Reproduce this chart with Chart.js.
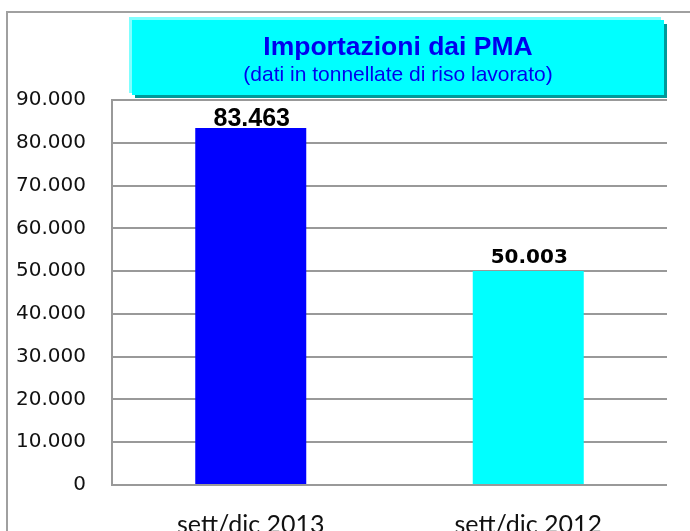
<!DOCTYPE html>
<html>
<head>
<meta charset="utf-8">
<script src="https://cdn.jsdelivr.net/npm/chart.js@4"></script>
<style>
  html, body { margin: 0; padding: 0; background: #fff; overflow: hidden; }
  #wrap { position: absolute; left: 0; top: 0; width: 690px; height: 560px; }
</style>
</head>
<body>
<div id="wrap"><canvas id="myChart" width="690" height="560"></canvas></div>
<script>
// dati del grafico
var categorie = ['sett/dic 2013', 'sett/dic 2012'];
var valori = [83463, 50003];
var coloriBarre = ['#0000ff', '#00ffff'];
var titolo = 'Importazioni dai PMA';
var sottotitolo = '(dati in tonnellate di riso lavorato)';
var yMin = 0, yMax = 90000, yStep = 10000;

function fmt(v) {
    return String(Math.round(v)).replace(/\B(?=(\d{3})+(?!\d))/g, '.');
}

// cornice esterna + riquadro del titolo
var sfondo = {
    id: 'sfondo',
    beforeDraw: function (chart) {
        var ctx = chart.ctx;
        ctx.save();
        ctx.strokeStyle = '#a0a0a0';
        ctx.lineWidth = 2;
        ctx.beginPath();
        ctx.moveTo(7, 600);
        ctx.lineTo(7, 12);
        ctx.lineTo(700, 12);
        ctx.stroke();
        ctx.restore();
    },
    afterDraw: function (chart) {
        var ctx = chart.ctx;
        ctx.save();
        ctx.fillStyle = '#009999';
        ctx.fillRect(135, 24, 532, 74);
        ctx.fillStyle = '#80ffff';
        ctx.fillRect(129, 17, 532, 76);
        ctx.fillStyle = '#00ffff';
        ctx.fillRect(132, 20, 532, 75);
        ctx.fillStyle = '#0000ee';
        ctx.textAlign = 'center';
        ctx.textBaseline = 'alphabetic';
        ctx.font = 'bold 26.5px "Liberation Sans", Arial';
        ctx.fillText(titolo, 398, 55);
        ctx.font = '21px "Liberation Sans", Arial';
        ctx.fillText(sottotitolo, 398, 81);
        ctx.restore();
    }
};

// etichette dei valori sopra le barre
var fontEtichette = ['bold 25px "Liberation Sans", Arial', 'bold 20px "DejaVu Sans"'];
var scostamento = [2, 8];
var etichette = {
    id: 'etichette',
    afterDatasetsDraw: function (chart) {
        var ctx = chart.ctx;
        var meta = chart.getDatasetMeta(0);
        ctx.save();
        ctx.fillStyle = '#000';
        ctx.textAlign = 'center';
        ctx.textBaseline = 'alphabetic';
        meta.data.forEach(function (bar, i) {
            ctx.font = fontEtichette[i];
            ctx.fillText(fmt(valori[i]), bar.x + 1, bar.y - scostamento[i]);
        });
        ctx.restore();
    }
};

var ctx = document.getElementById('myChart').getContext('2d');

var chart = new Chart(ctx, {
    type: 'bar',
    data: {
        labels: categorie,
        datasets: [{
            data: valori,
            backgroundColor: coloriBarre,
            borderWidth: 0,
            barPercentage: 0.4,
            categoryPercentage: 1
        }]
    },
    options: {
        responsive: false,
        animation: false,
        layout: { padding: { top: 100, right: 23, left: 0, bottom: 0 } },
        plugins: {
            legend: { display: false },
            tooltip: { enabled: false }
        },
        scales: {
            x: {
                grid: { display: false },
                border: { display: false },
                ticks: {
                    color: '#111',
                    font: { family: 'Lato', size: 25 },
                    padding: 17
                },
                afterFit: function (scale) { scale.height = 75; }
            },
            y: {
                min: yMin,
                max: yMax,
                ticks: {
                    stepSize: yStep,
                    color: '#111',
                    font: { family: 'DejaVu Sans', size: 20 },
                    padding: 26,
                    callback: function (v) { return fmt(v); }
                },
                grid: { color: '#999999', lineWidth: 2, drawTicks: false },
                border: { color: '#999999', width: 2 },
                afterFit: function (scale) { scale.width = 112; }
            }
        }
    },
    plugins: [sfondo, etichette]
});
</script>
</body>
</html>
